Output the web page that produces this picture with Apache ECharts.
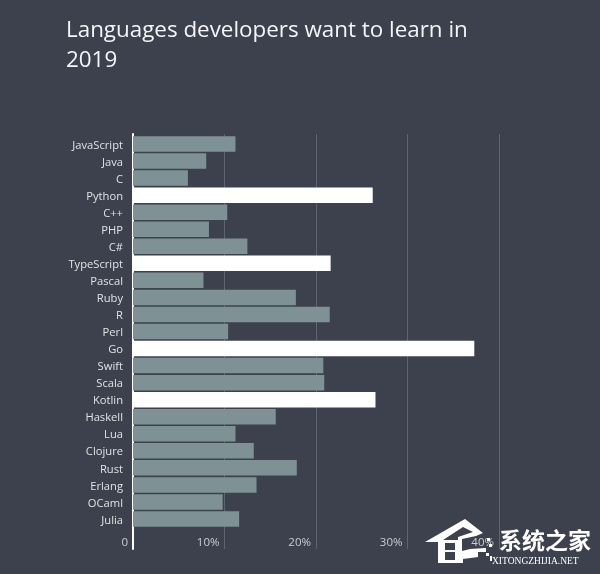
<!DOCTYPE html>
<html>
<head>
<meta charset="utf-8">
<style>html,body{margin:0;padding:0;background:#3c414d}#chart{width:600px;height:574px}</style>
<script src="https://cdn.jsdelivr.net/npm/echarts@6/dist/echarts.min.js"></script>
</head>
<body>
<div id="chart"></div>
<script>
// Share of developers who want to learn each language, in percent
const languages = ['JavaScript','Java','C','Python','C++','PHP','C#','TypeScript','Pascal','Ruby','R','Perl','Go','Swift','Scala','Kotlin','Haskell','Lua','Clojure','Rust','Erlang','OCaml','Julia'];
const wantToLearn = [11.2,8.0,6.0,26.2,10.3,8.3,12.5,21.6,7.7,17.8,21.5,10.4,37.3,20.8,20.9,26.5,15.6,11.2,13.2,17.9,13.5,9.8,11.6];
const highlighted = ['Python','TypeScript','Go','Kotlin'];
const percentTicks = [0,10,20,30,40];

const labelFont = 'Open Sans';
const chart = echarts.init(document.getElementById('chart'), null, {renderer:'canvas'});

const pixelRect = (x,y,w,h,fill) => ({type:'rect',z:52,shape:{x,y,width:w,height:h},style:{fill}});

chart.setOption({
  backgroundColor:'#3c414d',
  animation:false,
  title:{
    text:'Languages developers want to learn in\n2019',
    left:61, top:11,
    textStyle:{color:'#f3f5f6',fontFamily:labelFont,fontSize:22.4,fontWeight:'normal',lineHeight:30}
  },
  // First grid carries the percent scale and the tall rules; second one holds the bars
  grid:[
    {left:133,width:366,top:134,height:415},
    {left:133,width:366,top:135.5,height:392}
  ],
  xAxis:[
    {
      gridIndex:0,type:'value',min:percentTicks[0],max:percentTicks[percentTicks.length-1],interval:10,
      axisLine:{show:false},axisTick:{show:false},
      splitLine:{show:true,lineStyle:{color:'#5e6470',width:1}},
      axisLabel:{
        inside:true,margin:0,align:'right',padding:[0,5,0,0],
        color:'#c9ced2',fontFamily:labelFont,fontSize:11.5,
        formatter:v=>v===0?'0':v+'%'
      }
    },
    {gridIndex:1,type:'value',min:percentTicks[0],max:percentTicks[percentTicks.length-1],show:false}
  ],
  yAxis:[
    {
      gridIndex:0,type:'value',min:0,max:1,
      axisLine:{show:true,lineStyle:{color:'#ffffff',width:2}},
      axisTick:{show:false},axisLabel:{show:false},splitLine:{show:false}
    },
    {
      gridIndex:1,type:'category',inverse:true,data:languages,
      axisLine:{show:false},axisTick:{show:false},
      axisLabel:{color:'#dfe3e5',fontFamily:labelFont,fontSize:11.2,margin:10,interval:0,verticalAlign:'top',lineHeight:3}
    }
  ],
  series:[{
    type:'bar',xAxisIndex:1,yAxisIndex:1,barWidth:15.5,silent:true,
    data:wantToLearn.map((v,i)=>({
      value:v,
      itemStyle:{color:highlighted.includes(languages[i])?'#ffffff':'#7e9295'}
    }))
  }],
  // Site mark in the lower right corner
  graphic:[
    {type:'polygon',z:50,shape:{points:[[425,542],[465,519],[483,533],[476,536],[462,539],[462,551],[470,549],[486,548],[486,552],[478,552],[478,557],[463,559],[463,563],[438,563],[438,542]]},style:{fill:'#ffffff'}},
    {type:'polygon',z:51,shape:{points:[[443,540],[463,527],[473,532],[458,537],[458,540]]},style:{fill:'#3c414d'}},
    pixelRect(445,543,10,7,'#3c414d'),
    pixelRect(445,552,10,8,'#3c414d'),
    pixelRect(487,538,3,3,'#ffffff'),
    pixelRect(489,544,3,3,'#ffffff'),
    pixelRect(486,553,3,3,'#ffffff'),
    pixelRect(490,556,2,5,'#ffffff'),
    {type:'text',z:52,style:{text:'系统之家',x:499,y:529,fill:'#ffffff',font:'bold 23px "Noto Sans CJK SC"'}},
    {type:'text',z:52,style:{text:'XITONGZHIJIA.NET',x:492,y:556,fill:'#ffffff',font:'9.5px "Liberation Serif"'}}
  ]
});
</script>
</body>
</html>
